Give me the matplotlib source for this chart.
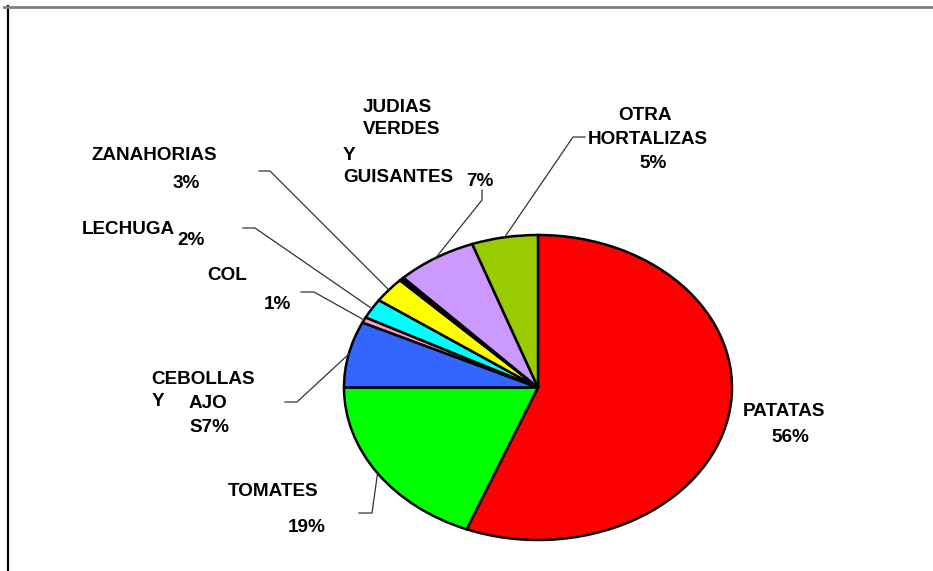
import numpy as np
import matplotlib.pyplot as plt
from matplotlib.lines import Line2D

plt.rcParams['font.family'] = ['Liberation Sans', 'DejaVu Sans']

# data
names = ['PATATAS', 'TOMATES', 'CEBOLLAS Y AJOS', 'COL', 'LECHUGA',
         'ZANAHORIAS', '', 'JUDIAS VERDES Y GUISANTES', 'OTRA HORTALIZAS']
values = [56.0, 19.0, 7.0, 0.6, 2.1, 2.7, 0.4, 6.7, 5.5]
pct_labels = ['56%', '19%', '7%', '1%', '2%', '3%', '', '7%', '5%']
colors = ['#FF0000', '#00FF00', '#3366FF', '#FF99CC', '#00FFFF',
          '#FFFF00', '#000000', '#CC99FF', '#99CC00']

W, H = 933, 571
fig = plt.figure(figsize=(W / 100, H / 100), dpi=100)

def fx(x):
    return x / W

def fy(y):
    return 1 - y / H

# pie axes: ellipse centre (538, 387.5), rx 194, ry 152.5 in pixels
ax = fig.add_axes([fx(344), fy(540), 388 / W, 305 / H])
wedges, _ = ax.pie(values, colors=colors, startangle=90, counterclock=False,
                   wedgeprops=dict(edgecolor='black', linewidth=1.8))
ax.set_aspect('auto')
ax.set_xlim(-1, 1)
ax.set_ylim(-1, 1)
ax.axis('off')

# text pieces (text, x, baseline y) in pixels
texts = [
    ('JUDIAS', 363, 111.5), ('VERDES', 363, 134.5), ('Y', 343, 159.5),
    ('GUISANTES', 343, 182.5), (pct_labels[7], 466, 185.5),
    ('ZANAHORIAS', 92, 160.5), (pct_labels[5], 173, 188.5),
    ('LECHUGA', 82, 233.5), (pct_labels[4], 177, 245.5),
    ('COL', 207, 280.5), (pct_labels[3], 264, 309.5),
    ('CEBOLLAS', 151, 383.5), ('Y', 152, 406.5), ('AJO', 189, 408.5),
    ('S' + pct_labels[2], 189, 431.5),
    ('TOMATES', 228, 496.5), (pct_labels[1], 288, 531.5),
    ('PATATAS', 743, 415.5), (pct_labels[0], 771, 441.5),
    ('OTRA', 618, 119.5), ('HORTALIZAS', 588, 143.5), (pct_labels[8], 639, 168.5),
]
for t, x, y in texts:
    fig.text(fx(x), fy(y), t, ha='left', va='baseline', fontsize=13.6,
             fontweight='bold', color='black')

# leader lines: text end -> elbow -> wedge edge (mid angle)
leaders = {1: [(359, 513), (372, 513)],
           2: [(285, 402), (297, 402)],
           3: [(301, 292), (314, 292)],
           4: [(243, 228), (255, 228)],
           5: [(259, 171), (270, 171)],
           7: [(482, 190), (482, 200)],
           8: [(585, 137), (573, 137)]}
fig.canvas.draw()
for i, pts in leaders.items():
    w = wedges[i]
    ang = np.deg2rad((w.theta1 + w.theta2) / 2)
    px, py = ax.transData.transform((np.cos(ang), np.sin(ang)))
    xs = [fx(p[0]) for p in pts] + [px / W]
    ys = [fy(p[1]) for p in pts] + [py / H]
    fig.add_artist(Line2D(xs, ys, color='#333333', linewidth=0.9))

# frame lines
fig.add_artist(Line2D([fx(8), fx(8)], [fy(6), 0], color='black', linewidth=1.6))
fig.add_artist(Line2D([fx(4), 1], [fy(6.5), fy(6.5)], color='#808080', linewidth=2))

fig.savefig('out.png', dpi=100)
